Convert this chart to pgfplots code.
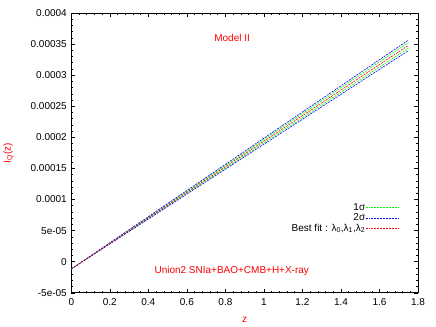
\documentclass[border=0pt]{standalone}
\usepackage{fontspec}
\setmainfont{Liberation Sans}
\usepackage{pgfplots}
\pgfplotsset{compat=1.18}
\pgfplotsset{legend image code/.code={\path (0pt,0pt) -- (4pt,0pt); \draw[#1] (5pt,0pt) -- (33pt,0pt);}}

\begin{document}
\begin{tikzpicture}
\begin{axis}[
    at={(0pt,0pt)}, anchor=south west,
    scale only axis,
    width=347pt, height=280pt,
    xmin=0, xmax=1.8,
    ymin=-0.00005, ymax=0.0004,
    xtick={0,0.2,...,1.8},
    xticklabels={0,0.2,0.4,0.6,0.8,1,1.2,1.4,1.6,1.8},
    ytick={-0.00005,0,0.00005,0.0001,0.00015,0.0002,0.00025,0.0003,0.00035,0.0004},
    yticklabels={-5e-05,0,5e-05,0.0001,0.00015,0.0002,0.00025,0.0003,0.00035,0.0004},
    scaled y ticks=false,
    minor x tick num=4, minor y tick num=4,
    tick align=inside, xtick pos=both, ytick pos=both,
    major tick length=4pt, minor tick length=2pt,
    every tick/.style={black, line width=0.5pt},
    axis line style={line width=0.7pt},
    tick label style={font=\fontsize{10}{11}\selectfont},
    xticklabel style={yshift=-2pt},
    yticklabel style={xshift=-1pt},
    /pgf/number format/assume math mode=true,
    xlabel={z}, ylabel={I\textsubscript{Q}(z)},
    every axis x label/.style={at={(axis description cs:0.5,0)}, yshift=-27pt,
        anchor=center, text=red, font=\fontsize{10}{11}\selectfont},
    every axis y label/.style={at={(axis description cs:0,0.5)}, xshift=-63pt,
        rotate=90, anchor=center, text=red, font=\fontsize{10}{11}\selectfont},
    legend plot pos=right,
    legend cell align=right,
    legend style={draw=none, fill=none, inner sep=0pt, outer sep=0pt,
        at={(rel axis cs:0.946,0.3236)}, anchor=north east,
        font=\fontsize{10}{11}\selectfont, row sep=0pt,
        nodes={inner sep=0.5pt, text height=7.5pt, text depth=2pt}},
]
% 1 sigma (upper and lower)
\addplot[green, dash pattern=on 2pt off 1pt, line width=0.6pt] coordinates {
    (0,-0.0000117) (0.25,0.0000403) (0.5,0.0000923) (0.75,0.0001443)
    (1.0,0.0001964) (1.25,0.0002484) (1.5,0.0003005) (1.75,0.0003524)
};
\addlegendentry{1σ}
\addplot[green, dash pattern=on 2pt off 1pt, line width=0.6pt, forget plot] coordinates {
    (0,-0.0000117) (0.25,0.0000391) (0.5,0.0000897) (0.75,0.0001405)
    (1.0,0.0001912) (1.25,0.0002420) (1.5,0.0002927) (1.75,0.0003434)
};
% 2 sigma (upper and lower)
\addplot[blue, dash pattern=on 2pt off 1pt, line width=0.6pt] coordinates {
    (0,-0.0000117) (0.25,0.0000409) (0.5,0.0000934) (0.75,0.0001460)
    (1.0,0.0001987) (1.25,0.0002513) (1.5,0.0003039) (1.75,0.0003564)
};
\addlegendentry{2σ}
\addplot[blue, dash pattern=on 2pt off 1pt, line width=0.6pt, forget plot] coordinates {
    (0,-0.0000117) (0.25,0.0000385) (0.5,0.0000886) (0.75,0.0001388)
    (1.0,0.0001889) (1.25,0.0002391) (1.5,0.0002893) (1.75,0.0003394)
};
% best fit
\addplot[red, dash pattern=on 2pt off 1pt, line width=0.6pt] coordinates {
    (0,-0.0000117) (0.25,0.0000397) (0.5,0.0000910) (0.75,0.0001424)
    (1.0,0.0001938) (1.25,0.0002452) (1.5,0.0002966) (1.75,0.0003479)
};
\addlegendentry{Best fit : λ\textsubscript{0},λ\textsubscript{1},λ\textsubscript{2}}
\node[red, font=\fontsize{10}{11}\selectfont] at (axis cs:0.835,0.00036) {Model II};
\node[red, font=\fontsize{10}{11}\selectfont] at (axis cs:0.833,-0.0000155) {Union2 SNIa+BAO+CMB+H+X-ray};
\end{axis}
\path (-71pt,-34pt) rectangle (365pt,293pt);
\end{tikzpicture}
\end{document}
